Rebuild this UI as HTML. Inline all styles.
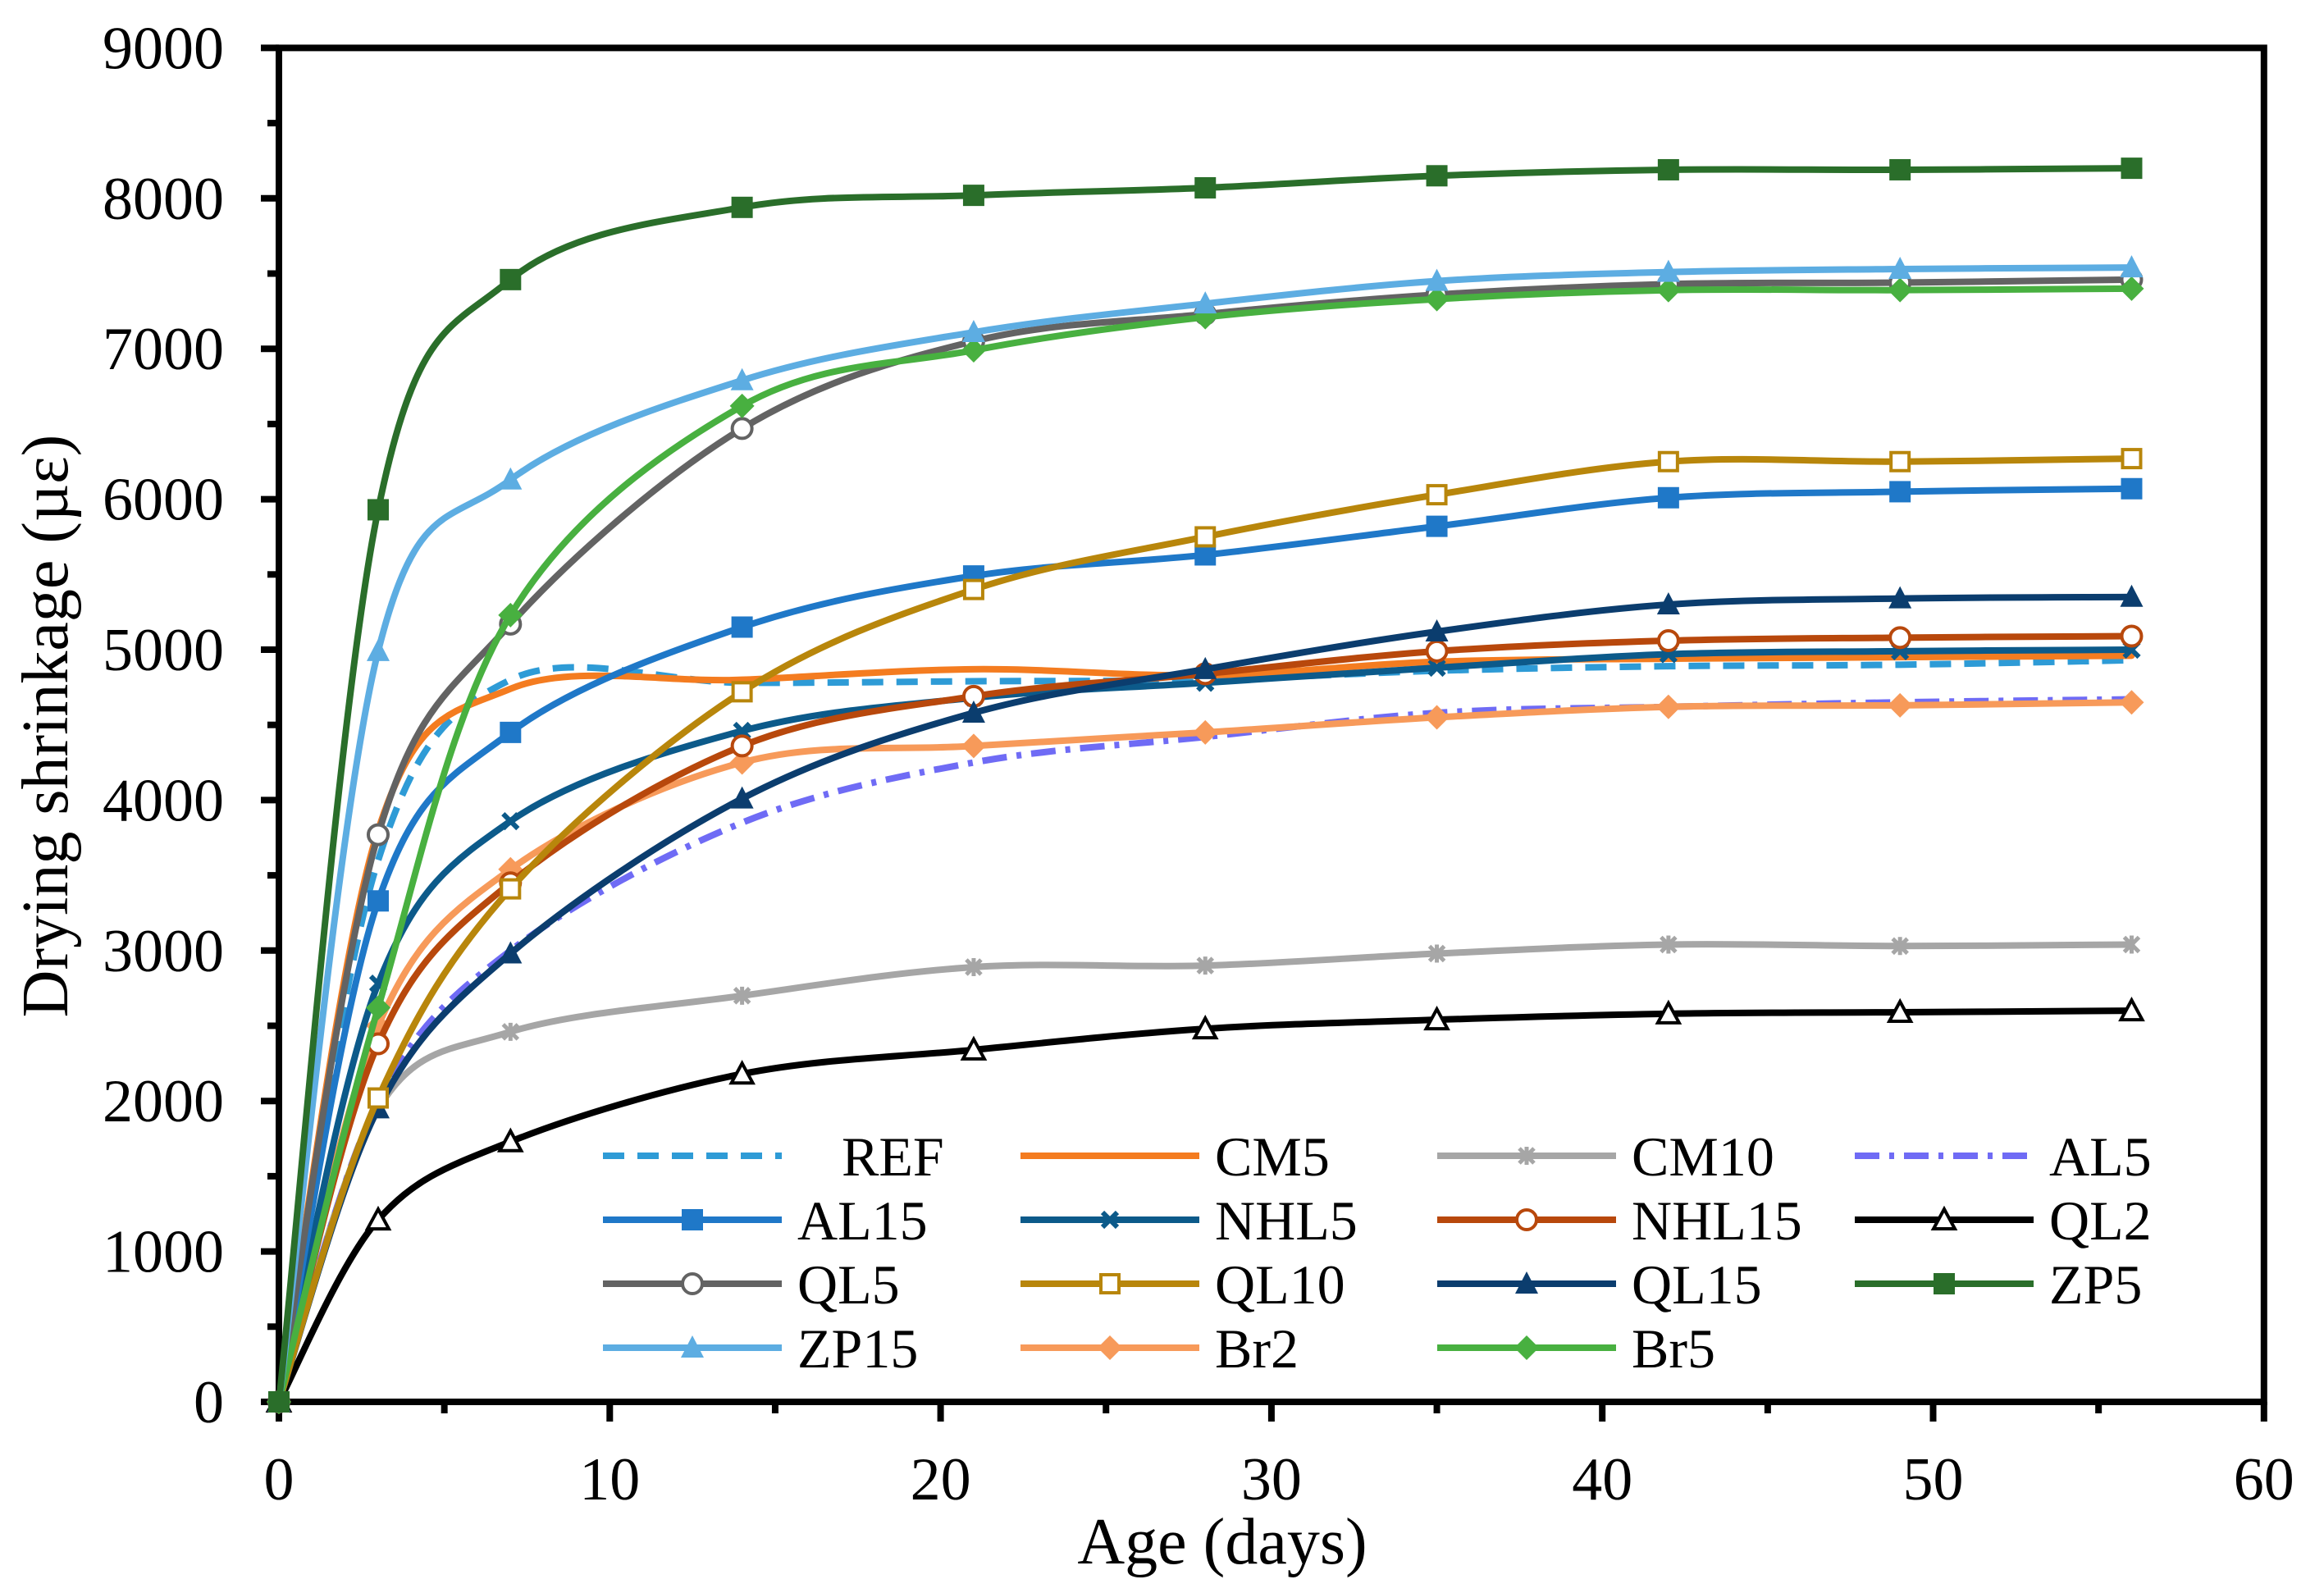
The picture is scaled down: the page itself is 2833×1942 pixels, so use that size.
<!DOCTYPE html>
<html><head><meta charset="utf-8"><style>
html,body{margin:0;padding:0;background:#fff}
svg{display:block}
text{font-family:"Liberation Serif",serif;fill:#000}
</style></head><body>
<svg id="chart" width="2833" height="1942" viewBox="0 0 2833 1942" xmlns="http://www.w3.org/2000/svg"></svg>
<script>
const days=[0,3,7,14,21,28,35,42,49,56];
const seriesNames=["REF","CM5","CM10","AL5","AL15","NHL5","NHL15","QL2","QL5","QL10","QL15","ZP5","ZP15","Br2","Br5"];
const REF=[0,3600,4800,4780,4790,4800,4860,4890,4900,4930];
const CM5=[0,3800,4740,4800,4870,4830,4920,4940,4950,4960];
const CM10=[0,1950,2460,2700,2890,2900,2980,3040,3030,3040];
const AL5=[0,2000,3000,3850,4250,4420,4580,4620,4650,4670];
const AL15=[0,3330,4450,5150,5490,5630,5820,6010,6050,6070];
const NHL5=[0,2780,3860,4460,4680,4780,4880,4970,4990,5000];
const NHL15=[0,2380,3450,4360,4690,4840,4990,5060,5080,5090];
const QL2=[0,1210,1730,2180,2340,2480,2540,2580,2590,2600];
const QL5=[0,3770,5170,6470,7050,7230,7360,7430,7440,7460];
const QL10=[0,2020,3410,4720,5400,5750,6030,6250,6250,6270];
const QL15=[0,1950,2980,4010,4580,4870,5120,5300,5340,5350];
const ZP5=[0,5930,7460,7940,8020,8070,8150,8190,8190,8200];
const ZP15=[0,4990,6130,6790,7110,7300,7450,7510,7530,7540];
const Br2=[0,2500,3540,4250,4360,4450,4550,4620,4630,4650];
const Br5=[0,2620,5230,6620,6990,7210,7330,7390,7390,7400];
const xTicks=[0,10,20,30,40,50,60];
const yTicks=[0,1000,2000,3000,4000,5000,6000,7000,8000,9000];

const NS="http://www.w3.org/2000/svg";
const svg=document.getElementById('chart');
const X0=340,XPD=40.33,Y0=1709,YPK=183.4;
const sx=v=>X0+v*XPD, sy=v=>Y0-v/1000*YPK;
function mk(tag,attrs,parent){const e=document.createElementNS(NS,tag);for(const k in attrs)e.setAttribute(k,attrs[k]);(parent||svg).appendChild(e);return e;}

const styles={
REF:{c:"#2E9BD6",dash:"26,16",m:null},
CM5:{c:"#F47C20",m:null},
CM10:{c:"#A6A6A6",m:"star"},
AL5:{c:"#6F6BF5",dash:"30,12,6,12",m:null},
AL15:{c:"#1F78C8",m:"square"},
NHL5:{c:"#0C5A8A",m:"x"},
NHL15:{c:"#B8480C",m:"ocircle"},
QL2:{c:"#000000",m:"otri"},
QL5:{c:"#636363",m:"ocircle"},
QL10:{c:"#B8860B",m:"osquare"},
QL15:{c:"#0B3D6E",m:"tri"},
ZP5:{c:"#2A6E2A",m:"square"},
ZP15:{c:"#5DADE2",m:"tri"},
Br2:{c:"#F79A5A",m:"diamond"},
Br5:{c:"#48B040",m:"diamond"}
};
const dataMap={REF,CM5,CM10,AL5,AL15,NHL5,NHL15,QL2,QL5,QL10,QL15,ZP5,ZP15,Br2,Br5};

function smoothPath(pts){
  let d=`M${pts[0][0]},${pts[0][1]}`;
  for(let i=0;i<pts.length-1;i++){
    const p0=pts[i-1]||pts[i],p1=pts[i],p2=pts[i+1],p3=pts[i+2]||p2;
    const t=1/6;
    d+=` C${p1[0]+(p2[0]-p0[0])*t},${p1[1]+(p2[1]-p0[1])*t} ${p2[0]-(p3[0]-p1[0])*t},${p2[1]-(p3[1]-p1[1])*t} ${p2[0]},${p2[1]}`;
  }
  return d;
}
function marker(type,x,y,c,g){
  const r=13;
  if(type==="square")return mk('rect',{x:x-r,y:y-r,width:2*r,height:2*r,fill:c},g);
  if(type==="osquare")return mk('rect',{x:x-r+2,y:y-r+2,width:2*r-4,height:2*r-4,fill:"#fff",stroke:c,"stroke-width":4},g);
  if(type==="ocircle")return mk('circle',{cx:x,cy:y,r:r-1,fill:"#fff",stroke:c,"stroke-width":4},g);
  if(type==="tri")return mk('polygon',{points:`${x},${y-r-2} ${x+r+1},${y+r-1} ${x-r-1},${y+r-1}`,fill:c},g);
  if(type==="otri")return mk('polygon',{points:`${x},${y-r} ${x+r},${y+r-2} ${x-r},${y+r-2}`,fill:"#fff",stroke:c,"stroke-width":4},g);
  if(type==="diamond")return mk('polygon',{points:`${x},${y-r-2} ${x+r+2},${y} ${x},${y+r+2} ${x-r-2},${y}`,fill:c},g);
  if(type==="x")return mk('path',{d:`M${x-9},${y-9}L${x+9},${y+9}M${x+9},${y-9}L${x-9},${y+9}`,stroke:c,"stroke-width":6,fill:"none"},g);
  if(type==="star")return mk('path',{d:`M${x-9},${y-9}L${x+9},${y+9}M${x+9},${y-9}L${x-9},${y+9}M${x},${y-11}L${x},${y+11}`,stroke:c,"stroke-width":5,fill:"none"},g);
}

const axes=mk('g',{});


mk('rect',{x:sx(0),y:sy(9000),width:sx(60)-sx(0),height:sy(0)-sy(9000),fill:"none",stroke:"#000","stroke-width":8},axes);
for(let v=0;v<=9000;v+=500){
  const major=v%1000===0;
  mk('line',{x1:sx(0)-(major?22:14),x2:sx(0),y1:sy(v),y2:sy(v),stroke:"#000","stroke-width":8},axes);
}
yTicks.forEach(v=>{
  const t=mk('text',{x:273,y:sy(v)+25,"text-anchor":"end","font-size":74},axes);
  
  
  t.textContent=v;
});
for(let v=0;v<=60;v+=5){
  const major=v%10===0;
  mk('line',{x1:sx(v),x2:sx(v),y1:sy(0),y2:sy(0)+(major?24:14),stroke:"#000","stroke-width":8},axes);
}
xTicks.forEach(v=>{
  const t=mk('text',{x:sx(v),y:1828,"text-anchor":"middle","font-size":74},axes);
  
  
  t.textContent=v;
});
const xt=mk('text',{x:1490,y:1906,"text-anchor":"middle","font-size":80});


xt.textContent="Age (days)";
const yt=mk('text',{x:0,y:0,"text-anchor":"middle","font-size":80,transform:"translate(82,885) rotate(-90)"});


yt.textContent="Drying shrinkage (µε)";

const order=["QL2","CM10","AL5","Br2","REF","CM5","NHL5","NHL15","QL15","AL15","QL10","QL5","Br5","ZP15","ZP5"];
order.forEach(n=>{
  const s=styles[n],vals=dataMap[n];
  const g=mk('g',{});
  
  
  const pts=days.map((d,i)=>[sx(d),sy(vals[i])]);
  const p=mk('path',{d:smoothPath(pts),fill:"none",stroke:s.c,"stroke-width":8,"stroke-linecap":s.dash?"butt":"round"},g);
  if(s.dash)p.setAttribute('stroke-dasharray',s.dash);
  if(s.m)pts.forEach(pt=>marker(s.m,pt[0],pt[1],s.c,g));
});

const legend=mk('g',{});


const legRows=[1409,1487,1565,1643];
const legCols=[735,1244,1752,2261];
const legText={REF:1026};
seriesNames.forEach((n,i)=>{
  const col=i%4,row=Math.floor(i/4);
  const s=styles[n];
  const g=mk('g',{},legend);
  
  
  const x1=legCols[col],x2=x1+218,y=legRows[row];
  const l=mk('line',{x1,x2,y1:y,y2:y,stroke:s.c,"stroke-width":8},g);
  if(s.dash)l.setAttribute('stroke-dasharray',s.dash);
  if(s.m)marker(s.m,(x1+x2)/2,y,s.c,g);
  const t=mk('text',{x:legText[n]||x2+19,y:y+24,"font-size":68},g);
  t.textContent=n;
});
</script>
</body></html>
